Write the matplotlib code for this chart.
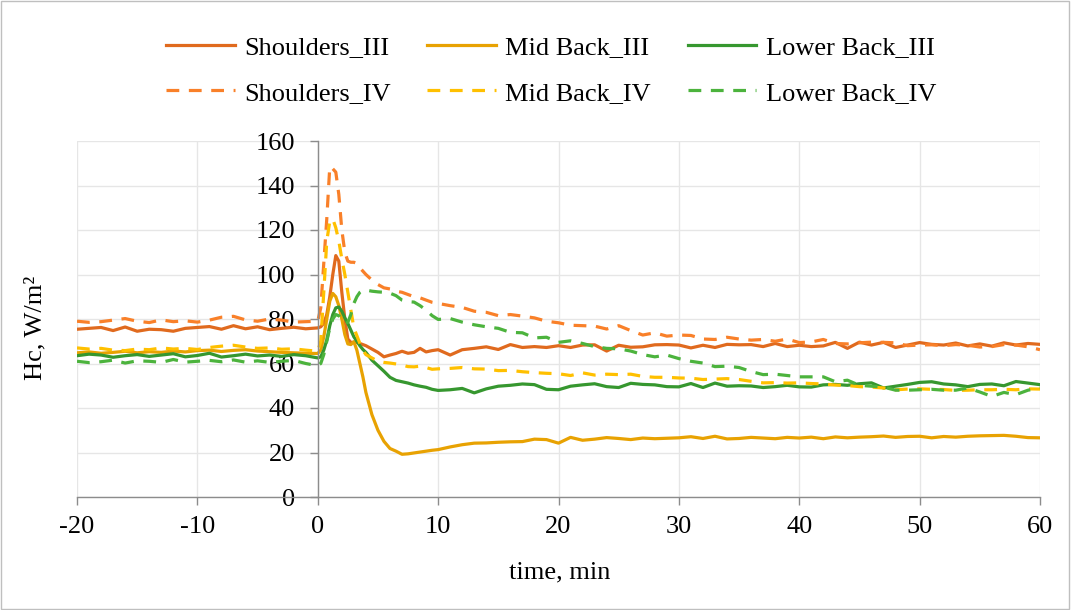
import matplotlib.pyplot as plt
import numpy as np
from matplotlib.patches import Rectangle

plt.rcParams['font.family'] = ['Liberation Serif', 'DejaVu Serif']
plt.rcParams['axes.unicode_minus'] = False

# time axis (min): 1 min before the step, finer sampling around the peak
time_min = np.concatenate([np.arange(-20, 0, 1.0),
                           np.arange(0, 4.01, 0.25),
                           np.arange(4.5, 10.01, 0.5),
                           np.arange(11, 60.01, 1.0)])

shoulders_3 = [75.4, 75.8, 76.2, 74.8, 76.4, 74.5, 75.4, 75.2, 74.5, 75.8,
               76.2, 76.6, 75.4, 77.0, 75.6, 76.5, 75.2, 75.8, 76.3, 75.6,
               76, 76.5, 78, 82, 90, 100, 108.5, 106, 92, 80, 71, 69.5, 69.5, 69.5, 69, 68.5, 68,
               66.5, 65, 63, 63.8, 64.5, 65.5, 64.6, 65, 66.8, 65.2, 65.8, 66.2,
               63.8, 66.2, 66.8, 67.5, 66.3, 68.5, 67.2, 67.6, 67.2, 68,
               67.2, 68.3, 68.4, 65.6, 68.2, 67.3, 67.5, 68.4, 68.5, 68.3,
               67, 68.2, 67.2, 68.6, 68.4, 68.5, 67.6, 69, 67.6, 68.2,
               67.6, 67.9, 69.5, 66.8, 69.6, 68.3, 69.5, 67.2, 68.3, 69.4,
               68.6, 68.3, 69.2, 67.9, 68.8, 67.8, 69.3, 68.3, 69, 68.6]

shoulders_4 = [79, 78.5, 78.8, 79.5, 80.2, 79, 78.4, 79.6, 78.8, 79.2,
               78.6, 79.5, 80.8, 81.2, 79.6, 79, 80, 79.5, 78.6, 78.8,
               79, 85, 105, 125, 148.5, 147.5, 146, 136, 120, 110, 106, 105.5, 105.5, 105, 103, 101.5, 100,
               97.5, 95.5, 94, 93.5, 92.5, 92, 91, 90, 89.5, 88.5, 87.5, 87,
               86, 85.2, 83.5, 83, 81.5, 82, 81.3, 80.5, 79, 78.3,
               77.2, 77, 76.8, 75.5, 77, 74.8, 72.8, 73.8, 72.3, 72.8,
               72.6, 71, 70.8, 71.8, 71, 70.5, 70.8, 70, 71, 69.4,
               69.7, 70.8, 69, 68.8, 69.3, 69.6, 69.5, 69.3, 68, 68.3,
               68.4, 68, 68.5, 68.2, 67.4, 67.6, 68.5, 68.3, 67.5, 66.2]

mid_back_3 = [64.8, 65.2, 64.6, 65, 65.5, 64.8, 65.3, 65, 65.6, 65.2,
              65.8, 66, 65.4, 65.9, 66.2, 65.6, 65.3, 65, 64.8, 64.6,
              64.5, 66, 72, 80, 88, 91.5, 90, 86, 80, 73, 68.8, 68.5, 69.8, 66, 60, 54, 47,
              37, 30, 25, 21.8, 20.6, 19.2, 19.4, 19.8, 20.2, 20.6, 21, 21.3,
              22.5, 23.5, 24.2, 24.3, 24.6, 24.8, 24.9, 26, 25.8, 24.2,
              26.8, 25.5, 26, 26.7, 26.3, 25.8, 26.5, 26.2, 26.4, 26.6,
              27.1, 26.3, 27.3, 26.1, 26.3, 26.8, 26.5, 26.2, 26.8, 26.5,
              26.9, 26.2, 27, 26.6, 26.9, 27.1, 27.4, 26.8, 27.2, 27.3,
              26.6, 27.2, 26.9, 27.3, 27.5, 27.6, 27.7, 27.3, 26.7, 26.6]

mid_back_4 = [67, 66.5, 66.8, 66, 65.8, 66.5, 66.2, 67, 66.5, 66.8,
              66.3, 67.2, 67.8, 68.2, 67.4, 66.8, 67, 66.4, 66.6, 66,
              65.5, 70, 92, 115, 124, 125, 121, 115, 107, 100, 92, 84, 76, 72.5, 69, 66, 64,
              62.5, 61, 60.5, 60.2, 59.8, 59.3, 58.6, 58.5, 58.8, 58.2, 57.4, 57.6,
              57.8, 58.2, 57.6, 57.5, 56.8, 56.9, 56.3, 55.9, 55.6, 55.4,
              54.6, 55.8, 54.8, 55.2, 55, 55.2, 54.2, 53.8, 53.8, 53.5,
              53.4, 52.8, 53, 53.2, 52.8, 52, 51.3, 51.4, 51.2, 51.3,
              51, 50.8, 50.3, 50.1, 49.6, 49.4, 49, 48.2, 48.5, 48.6,
              48.4, 48.3, 47.9, 48, 48.2, 48.2, 48.4, 48.2, 48.6, 48.5]

lower_back_3 = [63.5, 64.2, 63.8, 62.8, 63.5, 64, 63.2, 63.8, 64.4, 63,
                63.6, 64.6, 62.9, 63.5, 64.2, 63.4, 63.8, 63.2, 64, 63.5,
                62.5, 63, 66, 70.5, 77, 82, 85, 85.4, 83.5, 80.5, 78, 75, 72, 70, 68, 66.3, 65,
                61.5, 59, 56.5, 53.8, 52.4, 51.8, 51.2, 50.4, 49.8, 49.3, 48.4, 47.9,
                48.2, 48.8, 46.8, 48.6, 49.8, 50.2, 50.8, 50.5, 48.4, 48.2,
                49.8, 50.4, 50.9, 49.6, 49.2, 51.1, 50.6, 50.4, 49.6, 49.5,
                51, 49.2, 51.2, 49.8, 50, 49.9, 49.2, 49.6, 50.2, 49.5,
                49.4, 50.4, 50.6, 50.2, 50.9, 51.3, 49, 49.8, 50.6, 51.5,
                51.8, 50.8, 50.4, 49.6, 50.6, 50.8, 50, 51.9, 51.2, 50.5]

lower_back_4 = [61, 60.4, 60.8, 61.5, 60.2, 61.2, 61, 60.5, 61.8, 60.6,
                61, 61.4, 60.8, 61.6, 60.6, 61.2, 60.5, 61, 61.4, 60,
                59, 60, 64, 70, 76, 80, 82, 81.5, 79.5, 78, 78.5, 82, 87, 90, 92, 93, 93,
                92.5, 92.2, 92, 91.6, 90.5, 88.5, 87.8, 87.6, 86, 84, 81.5, 79.8,
                80.2, 78.6, 77.4, 76.5, 75.8, 74, 73.8, 71.5, 71.8, 69.5,
                70.2, 69, 67.6, 66.8, 66.6, 65.6, 64, 63, 63.8, 62.2,
                61, 60.2, 58.6, 58.8, 58.2, 56.4, 55, 55.2, 54.6, 54,
                54, 54, 51.8, 52.5, 50.2, 49.8, 49.4, 48, 48, 48.2,
                48.4, 48, 48, 49, 47.2, 45.2, 47, 46, 48, 49]

fig = plt.figure(figsize=(10.71, 6.10), dpi=100)
ax = fig.add_axes([77/1071, 1-497/610, 963/1071, 356/610])

dash = (4, 3)
lw = 2.3
ax.plot(time_min, shoulders_3, color='#E06A1E', lw=lw, label='Shoulders_III')
ax.plot(time_min, mid_back_3, color='#E8A202', lw=lw, label='Mid Back_III')
ax.plot(time_min, lower_back_3, color='#36972F', lw=lw, label='Lower Back_III')
ax.plot(time_min, shoulders_4, color='#F98029', lw=lw, dashes=dash, label='Shoulders_IV')
ax.plot(time_min, mid_back_4, color='#FFC000', lw=lw, dashes=dash, label='Mid Back_IV')
ax.plot(time_min, lower_back_4, color='#4CB33D', lw=lw, dashes=dash, label='Lower Back_IV')

ax.set_xlim(-20, 60)
ax.set_ylim(0, 160)
ax.set_xticks(np.arange(-20, 61, 10))
ax.set_yticks(np.arange(0, 161, 20))
ax.grid(True, color='#E6E6E6', lw=1)
ax.set_axisbelow(True)

# y axis crosses at time 0 like the spreadsheet chart
ax.spines['left'].set_position(('data', 0))
for s in ['top', 'right']:
    ax.spines[s].set_visible(False)
for s in ['left', 'bottom']:
    ax.spines[s].set_color('#8C8C8C')
    ax.spines[s].set_linewidth(1)
ax.tick_params(axis='both', direction='out', length=5.5, width=1, color='#8C8C8C', labelsize=19)
ax.tick_params(axis='y', pad=11)
ax.tick_params(axis='x', pad=8)

fig.text(560/1071, 1-572/610, 'time, min', ha='center', va='center', fontsize=19)
fig.text(35/1071, 1-328/610, 'Hc, W/m²', ha='center', va='center', rotation=90, fontsize=19)

# legend: two rows, three columns
h, l = ax.get_legend_handles_labels()
order = [0, 3, 1, 4, 2, 5]
fig.legend([h[i] for i in order], [l[i] for i in order], ncol=3, loc='center',
           bbox_to_anchor=(551/1071, 1-70/610), frameon=False, fontsize=19,
           handlelength=2.6, handletextpad=0.35, columnspacing=1.4, labelspacing=0.85)

# chart area border
fig.patches.append(Rectangle((0.001, 0.002), 0.997, 0.996, transform=fig.transFigure,
                             fill=False, edgecolor='#BFBFBF', lw=1))

fig.savefig('out.png', dpi=100)
